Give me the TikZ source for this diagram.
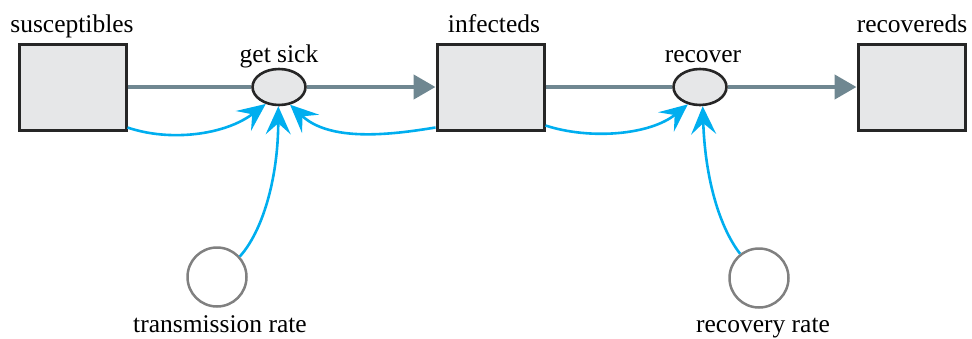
\documentclass[tikz,border=0pt]{standalone}
\usepackage{fontspec}
\setmainfont{Liberation Serif}
\usetikzlibrary{arrows.meta,shapes.geometric}
\definecolor{flowgray}{HTML}{6F8791}
\definecolor{infoblue}{HTML}{00AEEF}
\definecolor{boxfill}{HTML}{E6E7E8}
\begin{document}
\begin{tikzpicture}[x=1pt,y=-1pt,
  stock/.style={draw=black!85,line width=3pt,fill=boxfill,minimum width=107pt,minimum height=86pt,inner sep=0pt},
  valve/.style={ellipse,draw=black!85,line width=2.6pt,fill=boxfill,minimum width=53pt,minimum height=36pt,inner sep=0pt},
  param/.style={circle,draw=black!50,line width=2.5pt,minimum size=59pt,inner sep=0pt},
  flow/.style={draw=flowgray,line width=4.5pt},
  flowarrow/.style={flow,-{Triangle[length=22pt,width=24pt]}},
  info/.style={draw=infoblue,line width=2.6pt,-{Stealth[length=28pt,width=25pt,inset=11pt]}},
  lbl/.style={anchor=base,inner sep=0pt,font=\fontsize{25.5}{30}\selectfont}]
\useasboundingbox (0,0) rectangle (972,338);
\node[stock] (S) at (72.5,87) {};
\node[stock] (I) at (490.5,87) {};
\node[stock] (R) at (911.5,87) {};
\node[valve] (gs) at (279,87) {};
\node[valve] (rc) at (700,87) {};
\node[param] (tr) at (217,277) {};
\node[param] (rr) at (759,278) {};
\node[lbl] (lS) at (72,32) {susceptibles};
\node[lbl] (lI) at (494,32) {infecteds};
\node[lbl] (lR) at (912,32) {recovereds};
\node[lbl] (lgs) at (279,62) {get sick};
\node[lbl] (lrc) at (703,62) {recover};
\node[lbl] (ltr) at (220,332) {transmission rate};
\node[lbl] (lrr) at (763,332) {recovery rate};
% flows
\draw[flow] (S.east) -- (gs.west);
\draw[flowarrow] (gs.east) -- (I.west);
\draw[flow] (I.east) -- (rc.west);
\draw[flowarrow] (rc.east) -- (R.west);
% information links
\draw[info] ([yshift=4pt]S.south east) .. controls (170,142) and (225,135) .. (gs.232);
\draw[info] ([yshift=4pt]I.south west) .. controls (390,135) and (330,142) .. (gs.302);
\draw[info] (tr.42) .. controls (262,232) and (278,180) .. (gs.268);
\draw[info] ([yshift=6pt]I.south east) .. controls (590,140) and (650,135) .. (rc.235);
\draw[info] (rr.128) .. controls (718,225) and (705,175) .. (rc.278);
\end{tikzpicture}
\end{document}
